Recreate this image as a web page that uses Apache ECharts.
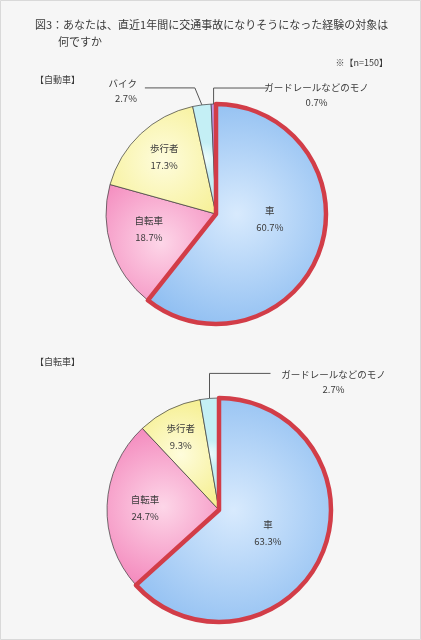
<!DOCTYPE html>
<html>
<head>
<meta charset="utf-8">
<script src="https://cdn.jsdelivr.net/npm/echarts@6/dist/echarts.min.js"></script>
<style>
  html, body { margin: 0; padding: 0; background: #f6f6f6; }
  #main { width: 421px; height: 640px; }
</style>
</head>
<body>
<div id="main"></div>
<script>
// 【自動車】 panel
const carCategories = ['車', '自転車', '歩行者', 'バイク', 'ガードレールなどのモノ']
const carValues = [60.7, 18.7, 17.3, 2.7, 0.7]

// 【自転車】 panel
const bikeCategories = ['車', '自転車', '歩行者', 'ガードレールなどのモノ']
const bikeValues = [63.3, 24.7, 9.3, 2.7]

const titleLine1 = '図3：あなたは、直近1年間に交通事故になりそうになった経験の対象は'
const titleLine2 = '何ですか'
const sampleNote = '※【n=150】'
const panelTitles = ['【自動車】', '【自転車】']

const FONT = '"Noto Sans CJK JP", "Noto Sans", sans-serif'
const TEXT = '#3a3a3a'
const RED = '#d23d48'

// [center, edge] of each slice's radial fill
const BLUE = ['#d8eafd', '#8dbdf1']
const PINK = ['#fdd6e8', '#f48dbf']
const YELLOW = ['#fefcdc', '#f6f095']
const CYAN = ['#effcfd', '#c4eff5']
const PURPLE = ['#e4cff7', '#bf98e6']
const carPalette = [BLUE, PINK, YELLOW, CYAN, PURPLE]
const bikePalette = [BLUE, PINK, YELLOW, CYAN]

const outsideNames = ['バイク', 'ガードレールなどのモノ']

// label tweaks per panel (inside: nudge, outside: leader line shape)
const carLabelTweaks = {
  '車': { dx: -1, dy: -14 },
  '自転車': { dx: -12, dy: -3 },
  '歩行者': { dx: -12, dy: -15 },
  'バイク': { lean: -7, rise: 17, run: -50, lx: -8, ly: 3, align: 'right' },
  'ガードレールなどのモノ': { lean: 0, rise: 16, run: 54, lx: 49, ly: 7, align: 'center' }
}
const bikeLabelTweaks = {
  '車': { dx: -5, dy: -1 },
  '自転車': { dx: -15, dy: 0 },
  '歩行者': { dx: -12, dy: -20 },
  'ガードレールなどのモノ': { lean: 0, rise: 25, run: 61, lx: 63, ly: 8, align: 'center' }
}

const radial = (c) => ({
  type: 'radial', x: 0.5, y: 0.5, r: 0.7,
  colorStops: [{ offset: 0, color: c[0] }, { offset: 1, color: c[1] }]
})

function makeLayout(names, tweaks) {
  return (params) => {
    const t = tweaks[names[params.dataIndex]] || {}
    if (t.run == null) return { dx: t.dx || 0, dy: t.dy || 0 }
    const pts = params.labelLinePoints
    if (!pts) return {}
    const p0 = pts[0]
    const p1 = [p0[0] + t.lean, p0[1] - t.rise]
    const p2 = [p1[0] + t.run, p1[1]]
    return {
      x: p2[0] + t.lx,
      y: p2[1] + t.ly,
      align: t.align,
      verticalAlign: 'middle',
      labelLinePoints: [p0, p1, p2]
    }
  }
}

function basePie(names, values, palette, center, radius, tweaks) {
  return {
    type: 'pie',
    center,
    radius,
    startAngle: 90,
    clockwise: true,
    avoidLabelOverlap: false,
    silent: true,
    emphasis: { disabled: true },
    label: {
      show: true,
      position: 'inside',
      formatter: '{b}\n{c}%',
      color: TEXT,
      fontFamily: FONT,
      fontSize: 9.5,
      lineHeight: 17
    },
    labelLine: { show: true, lineStyle: { color: '#555', width: 1 } },
    labelLayout: makeLayout(names, tweaks),
    data: names.map((n, i) => {
      const outside = outsideNames.includes(n)
      return {
        name: n,
        value: values[i],
        itemStyle: {
          color: radial(palette[i]),
          borderColor: '#3a3a3a',
          borderWidth: 0.7
        },
        label: outside
          ? { position: 'outside', lineHeight: 15 }
          : { position: 'inside' },
        labelLine: { show: outside }
      }
    })
  }
}

// drawn on top so the red outline of 車 is not covered by neighbours
function outlinePie(names, values, center, radius) {
  return {
    type: 'pie',
    center,
    radius,
    startAngle: 90,
    clockwise: true,
    silent: true,
    z: 3,
    emphasis: { disabled: true },
    label: { show: false },
    labelLine: { show: false },
    data: names.map((n, i) => ({
      name: n,
      value: values[i],
      itemStyle: {
        color: 'rgba(0,0,0,0)',
        borderColor: n === '車' ? RED : 'rgba(0,0,0,0)',
        borderWidth: n === '車' ? 4.5 : 0
      }
    }))
  }
}

const textEl = (text, x, y, size, align) => ({
  type: 'text',
  x, y,
  silent: true,
  style: {
    text,
    fill: TEXT,
    font: `${size}px ${FONT}`,
    align: align || 'left',
    verticalAlign: 'middle'
  }
})

const chart = echarts.init(document.getElementById('main'))
chart.setOption({
  animation: false,
  backgroundColor: '#f6f6f6',
  graphic: [
    {
      type: 'rect',
      silent: true,
      shape: { x: 0.5, y: 0.5, width: 420, height: 639 },
      style: { fill: 'none', stroke: '#d9d9d9', lineWidth: 1 }
    },
    textEl(titleLine1, 35, 25, 11, 'left'),
    textEl(titleLine2, 58, 42, 11, 'left'),
    textEl(sampleNote, 388, 63, 9, 'right'),
    textEl(panelTitles[0], 35, 80, 9, 'left'),
    textEl(panelTitles[1], 35, 362, 9, 'left')
  ],
  series: [
    basePie(carCategories, carValues, carPalette, [216, 214], 110, carLabelTweaks),
    outlinePie(carCategories, carValues, [216, 214], 110),
    basePie(bikeCategories, bikeValues, bikePalette, [219, 510], 112, bikeLabelTweaks),
    outlinePie(bikeCategories, bikeValues, [219, 510], 112)
  ]
})
</script>
</body>
</html>
